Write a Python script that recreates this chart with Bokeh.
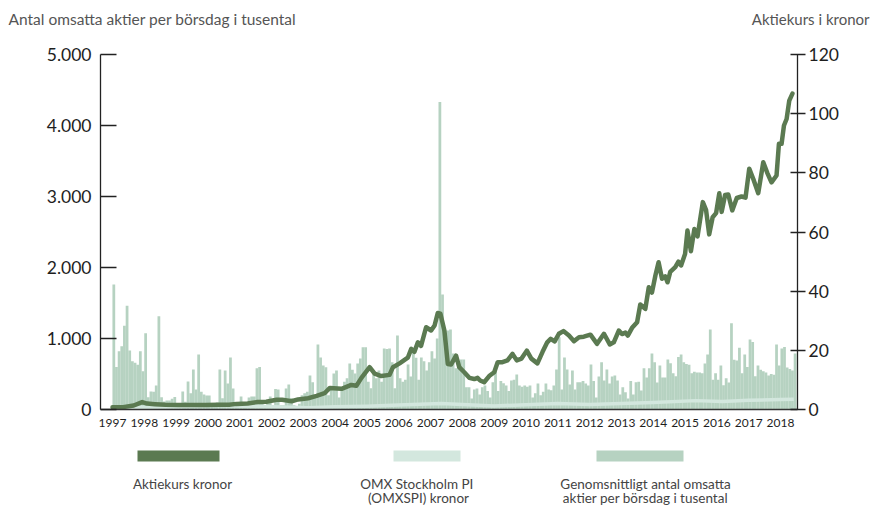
from bokeh.plotting import figure
from bokeh.models import Range1d, LinearAxis, FixedTicker
from bokeh.layouts import column
from bokeh.core.properties import value
from bokeh.embed import file_html
from bokeh.resources import INLINE

# ---------------- data ----------------
years = list(range(1997, 2019))
year_labels = [str(y) for y in years]

# average traded shares per trading day (thousands), monthly from Jan 1997
volym = [
    1760, 600, 820, 890, 1180, 1460, 830, 680, 660, 630, 820, 540,       # 1997
    1075, 173, 253, 250, 338, 1313, 173, 113, 127, 127, 150, 175,        # 1998
    80, 60, 253, 110, 394, 230, 563, 282, 774, 250, 211, 197,            # 1999
    197, 60, 60, 100, 563, 160, 549, 366, 732, 296, 80, 100,             # 2000
    183, 60, 60, 169, 183, 183, 580, 600, 110, 60, 130, 183,             # 2001
    60, 290, 280, 60, 60, 296, 352, 160, 60, 50, 80, 200,                # 2002
    230, 250, 479, 385, 200, 915, 732, 620, 596, 200, 300, 507,          # 2003
    549, 169, 300, 390, 440, 648, 560, 507, 648, 718, 877, 877,          # 2004
    390, 300, 549, 440, 549, 390, 859, 852, 859, 666, 300, 1042,         # 2005
    440, 390, 420, 634, 465, 850, 730, 420, 732, 680, 549, 666,          # 2006
    821, 718, 1000, 4330, 1620, 877, 1112, 1126, 789, 580, 640, 704,     # 2007
    704, 314, 314, 155, 282, 296, 211, 314, 338, 260, 170, 385,          # 2008
    549, 260, 400, 370, 338, 260, 408, 420, 493, 338, 320, 338,          # 2009
    320, 338, 170, 230, 366, 200, 250, 366, 282, 270, 338, 563,          # 2010
    1018, 282, 732, 563, 352, 549, 282, 385, 385, 400, 366, 338,         # 2011
    634, 400, 170, 465, 666, 408, 563, 366, 465, 479, 408, 211,          # 2012
    314, 244, 155, 400, 211, 385, 390, 268, 580, 450, 580, 789,          # 2013
    666, 380, 620, 450, 450, 704, 650, 511, 470, 740, 774, 666,          # 2014
    640, 630, 510, 530, 520, 520, 510, 648, 774, 1126, 420, 510,         # 2015
    420, 620, 340, 440, 380, 1215, 700, 690, 870, 510, 774, 600,         # 2016
    985, 950, 470, 620, 560, 540, 520, 480, 500, 490, 915, 620,          # 2017
    859, 880, 590, 570, 550, 789,                                        # 2018
]

# share price (kronor), months since Jan 1997
kurs_manad = [
    0, 4, 8, 11.2, 13, 16, 20, 25, 30, 35, 40, 44, 46.8, 51, 54.4, 58, 61.9,
    64, 67.6, 70, 73.8, 77, 80, 82, 86.4, 90.1, 92, 93.9, 97, 98.9, 101.4,
    104.5, 105.8, 108.3, 111.4, 112.7, 113.9, 115.2, 116.4, 118.3, 120.2,
    121.5, 122.7, 123.7, 125.2, 126.5, 127.7, 129.6, 130.8, 132.7, 134.6,
    136.5, 137.7, 138.7, 140.2, 142.1, 144.0, 145.3, 147.1, 149.0, 150.9,
    152.5, 154.3, 156.3, 158.0, 160.3, 162.2, 164.0, 165.3, 166.8, 168.4,
    170.1, 172.2, 174.1, 176.0, 177.8, 180.3, 182.8, 185.4, 187.6, 189.1,
    191.0, 192.2, 193.5, 194.4, 196.0, 197.9, 199.1, 201.0, 202.3, 203.5,
    204.8, 206.0, 207.3, 208.5, 209.4, 210.4, 212.3, 213.5, 214.5, 216.0,
    216.9, 218.2, 219.5, 220.7, 222.7, 223.9, 225.1, 226.4, 227.7, 228.9,
    229.8, 231.1, 232.3, 233.8, 235.5, 237.3, 238.8, 240.2, 241.7, 243.6,
    245.5, 247.0, 248.6, 250.5, 251.4, 252.4, 253.3, 254.3, 255.3, 256.5,
]
kurs_kr = [
    0.8, 0.8, 1.35, 2.5, 2.0, 1.8, 1.6, 1.5, 1.5, 1.5, 1.6, 1.6, 1.9, 2.0, 2.5, 2.6, 3.3,
    3.3, 2.8, 3.4, 3.8, 4.6, 5.5, 7.3, 7.0, 8.3, 8.0, 10.7, 14.3, 12.1, 11.3,
    11.7, 14.3, 15.6, 17.5, 20.5, 19.5, 22.7, 21.5, 27.8, 26.7,
    28.4, 32.6, 32.4, 26.7, 15.4, 15.2, 18.2, 14.3, 12.6, 10.7,
    10.3, 10.7, 9.8, 9.2, 11.3, 12.6, 16.0, 16.0, 16.6, 18.8,
    16.6, 17.2, 19.9, 17.2, 15.6, 19.4, 22.7, 23.9, 23.0, 25.6,
    26.5, 25.0, 23.1, 24.4, 24.6, 25.3, 22.2, 25.6, 22.0, 22.7,
    26.7, 25.5, 26.0, 25.0, 27.6, 29.5, 35.5, 34.0, 41.3, 39.5,
    45.3, 49.8, 44.2, 45.0, 43.0, 46.5, 48.1, 50.0, 48.7, 52.6,
    60.5, 53.5, 61.0, 58.5, 70.1, 67.5, 59.2, 65.0, 66.4, 73.1,
    66.8, 72.5, 72.7, 67.3, 71.5, 72.0, 71.6, 81.4, 78.0, 73.1,
    83.6, 80.0, 76.8, 79.1, 89.8, 89.8, 96.0, 98.2, 104.4, 106.8,
]

# OMX Stockholm PI (OMXSPI), scaled to kronor
omx_manad = [0, 12, 24, 38, 48, 60, 74, 84, 96, 108, 124, 132, 144, 156,
             168, 180, 192, 204, 220, 230, 240, 252, 257]
omx_kr = [0.6, 0.8, 0.9, 1.4, 1.1, 0.9, 0.6, 0.9, 1.1, 1.5, 2.0, 1.7, 1.2,
          1.6, 2.0, 1.7, 2.0, 2.4, 3.0, 2.7, 3.1, 3.4, 3.5]

vol_ticks = [0, 1000, 2000, 3000, 4000, 5000]
vol_tick_labels = ["0", "1.000", "2.000", "3.000", "4.000", "5.000"]
kurs_ticks = [0, 20, 40, 60, 80, 100, 120]

title_left = "Antal omsatta aktier per börsdag i tusental"
title_right = "Aktiekurs i kronor"
legend_labels = [
    ["Aktiekurs kronor"],
    ["OMX Stockholm  PI", "(OMXSPI) kronor"],
    ["Genomsnittligt antal omsatta", "aktier per börsdag i tusental"],
]

# ---------------- styling ----------------
FONT = "Lato"
C_BAR = "#b6d2c1"
C_OMX = "#d3e7de"
C_KURS = "#5b7a51"
C_TXT = "#1e1e1e"
C_TITLE = "#555555"
W = 872


def blank(height):
    f = figure(width=W, height=height, output_backend="svg", toolbar_location=None,
               x_range=Range1d(0, W), y_range=Range1d(height, 0),
               x_axis_location=None, y_axis_location=None, min_border=0,
               frame_align=False)
    f.outline_line_color = None
    f.xgrid.visible = False
    f.ygrid.visible = False
    return f


# ---------------- header strip (page y 0..42) ----------------
top = blank(42)
top.text(x=[8], y=[18], text=[title_left], text_font=value(FONT),
         text_font_size=value("15.5px"), text_color=C_TITLE,
         text_align="left", text_baseline="middle")
top.text(x=[869], y=[18], text=[title_right], text_font=value(FONT),
         text_font_size=value("15px"), text_color=C_TITLE,
         text_align="right", text_baseline="middle")

# ---------------- main chart (page y 42..440) ----------------
bar_x = [1997 + (m + 0.5) / 12 for m in range(len(volym))]
kurs_x = [1997 + m / 12 for m in kurs_manad]
omx_x = [1997 + m / 12 for m in omx_manad]

p = figure(width=W, height=398, output_backend="svg", toolbar_location=None,
           x_range=Range1d(1996.623, 2018.534), y_range=Range1d(0, 5000),
           min_border_left=100, min_border_right=75, min_border_top=12,
           min_border_bottom=31, frame_align=False)
p.outline_line_color = None
p.xgrid.visible = False
p.ygrid.visible = False
p.extra_y_ranges = {"kurs": Range1d(0, 120)}

p.vbar(x=bar_x, top=volym, width=1 / 12 * 1.04, fill_color=C_BAR, line_color=None)
p.line(omx_x, omx_kr, y_range_name="kurs", line_color=C_OMX, line_width=3.5,
       line_join="round")
p.line(kurs_x, kurs_kr, y_range_name="kurs", line_color=C_KURS, line_width=4.5,
       line_join="round", line_cap="round")

ya = p.yaxis[0]
ya.ticker = FixedTicker(ticks=vol_ticks)
ya.major_label_overrides = dict(zip(vol_ticks, vol_tick_labels))
ya.major_tick_in = 16
ya.major_tick_out = 0
ya.minor_tick_line_color = None
ya.axis_line_color = "#222222"
ya.axis_line_width = 1.3
ya.major_tick_line_color = "#222222"
ya.major_tick_line_width = 1.3
ya.major_label_text_font = FONT
ya.major_label_text_font_size = "17.5px"
ya.major_label_text_color = C_TXT
ya.major_label_standoff = 9

ra = LinearAxis(y_range_name="kurs", ticker=FixedTicker(ticks=kurs_ticks))
ra.major_tick_in = 7
ra.major_tick_out = 8
ra.minor_tick_line_color = None
ra.axis_line_color = "#222222"
ra.axis_line_width = 1.3
ra.major_tick_line_color = "#222222"
ra.major_tick_line_width = 1.3
ra.major_label_text_font = FONT
ra.major_label_text_font_size = "17.5px"
ra.major_label_text_color = C_TXT
ra.major_label_standoff = 3
p.add_layout(ra, "right")

xa = p.xaxis[0]
xa.ticker = FixedTicker(ticks=years)
xa.major_label_overrides = dict(zip(years, year_labels))
xa.major_tick_in = 0
xa.major_tick_out = 0
xa.minor_tick_line_color = None
xa.axis_line_color = "#333333"
xa.axis_line_width = 1.5
xa.major_label_text_font = FONT
xa.major_label_text_font_size = "12px"
xa.major_label_text_color = C_TXT
xa.major_label_standoff = 9

# ---------------- legend strip (page y 440..506) ----------------
leg = blank(66)
sw_left = [137, 393, 596]
sw_right = [219, 460, 683]
sw_color = [C_KURS, C_OMX, C_BAR]
txt_cx = [182, 418, 645]
leg.quad(left=sw_left, right=sw_right, top=[10, 10, 10], bottom=[21, 21, 21],
         fill_color=sw_color, line_color=None)
tx, ty, tt = [], [], []
for cx, lines in zip(txt_cx, legend_labels):
    for i, t in enumerate(lines):
        tx.append(cx)
        ty.append(43 + 14 * i)
        tt.append(t)
leg.text(x=tx, y=ty, text=tt, text_font=value(FONT), text_font_size=value("13.5px"),
         text_color="#444444", text_align="center", text_baseline="middle")

layout = column(top, p, leg, spacing=0)
open("out.html", "w").write(file_html(layout, INLINE))
